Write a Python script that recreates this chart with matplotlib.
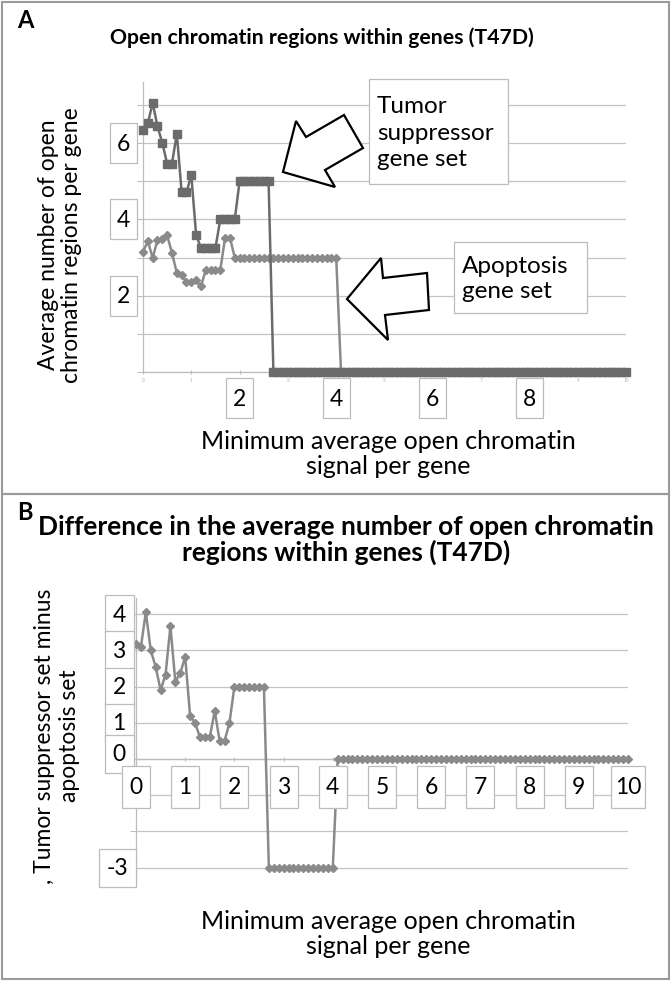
import matplotlib.pyplot as plt
from matplotlib.patches import Rectangle, Polygon
from matplotlib.transforms import Affine2D

# x values: minimum average open chromatin signal (0 to 10, step 0.1)
signal = [round(0.1 * i, 1) for i in range(101)]

# Panel A: average number of open chromatin regions per gene
tumor_suppressor = ([6.35, 6.52, 7.05, 6.44, 6.00, 5.46, 5.46, 6.25, 4.71, 4.71,
                     5.16, 3.59, 3.25, 3.25, 3.25, 3.25, 4.00, 4.00, 4.00, 4.00]
                    + [5.0] * 7 + [0.0] * 74)
apoptosis = ([3.15, 3.43, 2.99, 3.46, 3.49, 3.58, 3.12, 2.60, 2.55, 2.35,
              2.35, 2.40, 2.25, 2.67, 2.67, 2.67, 2.67, 3.52, 3.52]
             + [3.0] * 22 + [0.0] * 60)

# Panel B: tumor suppressor set minus apoptosis set
difference = ([3.17, 3.10, 4.06, 3.00, 2.55, 1.90, 2.33, 3.67, 2.13, 2.38,
               2.82, 1.19, 1.00, 0.60, 0.60, 0.60, 1.33, 0.50, 0.50, 1.00]
              + [2.0] * 7 + [-3.0] * 14 + [0.0] * 60)

a_xbox_labels = [2, 4, 6, 8]
a_ybox_labels = [6, 4, 2]
b_xbox_labels = list(range(11))
b_ybox_labels = [4, 3, 2, 1, 0, -3]

W, H = 672, 982
plt.rcParams['font.family'] = ['Lato', 'DejaVu Sans']
fig = plt.figure(figsize=(W / 100, H / 100), dpi=100)
# pixel coordinates, origin top-left
pix = Affine2D().scale(1 / W, -1 / H).translate(0, 1) + fig.transFigure

GRID = '#c4c4c4'
AXIS = '#bdbdbd'
BOXEDGE = '#bcbcbc'


def add_axes_px(left, top, right, bottom):
    return fig.add_axes([left / W, 1 - bottom / H, (right - left) / W, (bottom - top) / H])


def to_px(ax, x, y):
    dx, dy = ax.transData.transform((x, y))
    return dx, H - dy


def label_box(cx, cy, text, w=27, h=40, size=16.5):
    fig.add_artist(Rectangle((cx - w / 2, cy - h / 2), w, h, transform=pix,
                             fc='white', ec=BOXEDGE, lw=0.9, zorder=5))
    fig.text(cx, cy + 1, text, transform=pix, ha='center', va='center',
             fontsize=size, zorder=6)


def style_axes(ax):
    for s in ['top', 'right']:
        ax.spines[s].set_visible(False)
    for s in ['left', 'bottom']:
        ax.spines[s].set_color(AXIS)
        ax.spines[s].set_linewidth(0.9)
    ax.grid(axis='y', color=GRID, lw=0.9)
    ax.set_axisbelow(True)
    ax.tick_params(color=AXIS, width=0.8)


# ---------------- Panel A ----------------
axA = add_axes_px(143, 82, 626, 372)
axA.plot(signal, apoptosis, color='#8a8a8a', lw=1.8, marker='D', ms=4.2, clip_on=False, zorder=3)
axA.plot(signal, tumor_suppressor, color='#6b6b6b', lw=1.8, marker='s', ms=5.3, clip_on=False, zorder=4)
axA.set_xlim(0, 10)
axA.set_ylim(0, 7.6)
axA.set_yticks(range(8))
axA.set_yticklabels([])
axA.set_xticks(range(11))
style_axes(axA)
axA.tick_params(axis='x', labelsize=3.5, labelcolor='#b0b0b0', length=3, direction='inout', pad=3)
axA.tick_params(axis='y', length=4)

for v in a_ybox_labels:
    _, cy = to_px(axA, 0, v)
    label_box(123, cy, str(v))
for v in a_xbox_labels:
    cx, _ = to_px(axA, v, 0)
    label_box(cx, 398, str(v))

fig.text(17, 21, 'A', transform=pix, fontsize=17, fontweight='bold', ha='left', va='center')
fig.text(322, 38, 'Open chromatin regions within genes (T47D)', transform=pix,
         fontsize=15.3, fontweight='bold', ha='center', va='center')
fig.text(60, 245, 'Average number of open\nchromatin regions per gene', transform=pix,
         fontsize=16.5, rotation=90, ha='center', va='center', multialignment='center',
         linespacing=1.15)
fig.text(388, 454, 'Minimum average open chromatin\nsignal per gene', transform=pix,
         fontsize=18, ha='center', va='center', multialignment='center', linespacing=1.1)

# callouts
fig.add_artist(Rectangle((369, 79), 139, 105, transform=pix, fc='white', ec=BOXEDGE, lw=0.9, zorder=5))
fig.text(377, 133, 'Tumor\nsuppressor\ngene set', transform=pix, fontsize=17.5,
         ha='left', va='center', linespacing=1.3, zorder=6)
fig.add_artist(Rectangle((454, 242), 133, 71, transform=pix, fc='white', ec=BOXEDGE, lw=0.9, zorder=5))
fig.text(462, 279, 'Apoptosis\ngene set', transform=pix, fontsize=17.5,
         ha='left', va='center', linespacing=1.25, zorder=6)

arrow1 = [(283, 172), (335, 187), (325, 170), (363, 148), (344, 115), (306, 137), (296, 121)]
arrow2 = [(347, 299), (381, 258), (383, 278), (427, 273), (429, 310), (385, 315), (388, 340)]
for pts in (arrow1, arrow2):
    fig.add_artist(Polygon(pts, closed=True, transform=pix, fc='white', ec='black',
                           lw=1.6, joinstyle='miter', zorder=5))

# ---------------- Panel B ----------------
axB = add_axes_px(136, 598, 628, 882)
axB.plot(signal, difference, color='#8a8a8a', lw=1.8, marker='D', ms=4.2, clip_on=False, zorder=3)
axB.set_xlim(0, 10)
axB.set_ylim(-3.4, 4.45)
axB.set_yticks(range(-3, 5))
axB.set_yticklabels([])
axB.set_xticks(range(11))
axB.set_xticklabels([])
style_axes(axB)
axB.spines['bottom'].set_position(('data', 0))
axB.tick_params(axis='x', length=3, direction='inout')
axB.tick_params(axis='y', length=4)

for v in b_ybox_labels:
    _, cy = to_px(axB, 0, v)
    if v == 0:
        cy -= 5
    w = 37 if v < 0 else 29
    label_box(119 if v >= 0 else 117, cy, str(v), w=w, h=38)
for v in b_xbox_labels:
    cx, _ = to_px(axB, v, 0)
    w = 34 if v >= 10 else 28
    label_box(cx, 787, str(v), w=w, h=42)

fig.text(17, 513, 'B', transform=pix, fontsize=17, fontweight='bold', ha='left', va='center')
fig.text(346, 540, 'Difference in the average number of open chromatin\nregions within genes (T47D)',
         transform=pix, fontsize=19, fontweight='bold', ha='center', va='center',
         multialignment='center', linespacing=1.05)
fig.text(57, 736, ', Tumor suppressor set minus\napoptosis set', transform=pix,
         fontsize=16.5, rotation=90, ha='center', va='center', multialignment='center',
         linespacing=1.25)
fig.text(388, 934, 'Minimum average open chromatin\nsignal per gene', transform=pix,
         fontsize=18, ha='center', va='center', multialignment='center', linespacing=1.1)

# panel frames
for top, bottom in [(2, 494), (494, 979)]:
    fig.add_artist(Rectangle((2, top), 667, bottom - top, transform=pix, fill=False,
                             ec='#9a9a9a', lw=1.5, zorder=7))

fig.savefig('out.png', dpi=100, facecolor='white')
